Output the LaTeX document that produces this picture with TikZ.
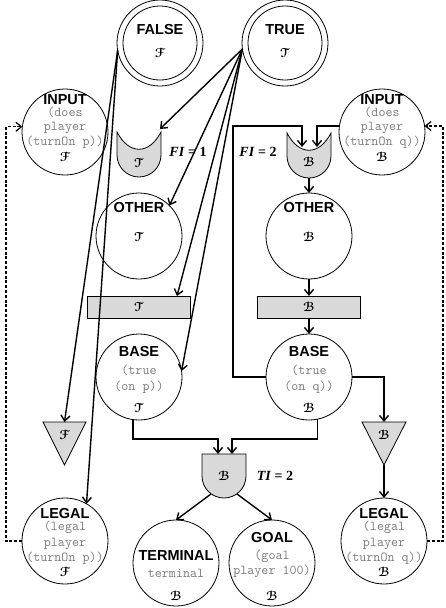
\documentclass[tikz,border=0pt]{standalone}
\usepackage{amsmath}
\usepackage{bm}
\usepackage[mathcal]{eucal}
\usepackage{fontspec}
\setmainfont{Liberation Serif}
\newfontfamily\ttlfont{Liberation Sans}
\usetikzlibrary{arrows.meta,calc}
\definecolor{gatefill}{HTML}{D9D9D9}
\definecolor{codegray}{HTML}{7A7A7A}
\newcommand{\symF}{$\bm{\mathcal{F}}$}
\newcommand{\symT}{$\bm{\mathcal{T}}$}
\newcommand{\symB}{$\bm{\mathcal{B}}$}
\begin{document}
\begin{tikzpicture}[x=1pt,y=-1pt,
  every node/.style={inner sep=0pt, outer sep=0pt},
  st/.style={circle, draw, line width=0.8pt, minimum size=86pt},
  ttl/.style={anchor=base, font=\ttlfont\bfseries\fontsize{14.5}{14.5}\selectfont},
  code/.style={anchor=base, font=\ttfamily\fontsize{13.6}{13.6}\selectfont, text=codegray},
  sym/.style={anchor=base, font=\fontsize{13}{13}\selectfont},
  gatedraw/.style={draw, line width=0.8pt, fill=gatefill},
  rectbox/.style={draw, line width=0.8pt, fill=gatefill, minimum width=103pt, minimum height=22pt},
  arr/.style={line width=1.4pt, -{Straight Barb[length=5.5pt,width=9pt]}},
  dsh/.style={line width=1.2pt, dash pattern=on 3pt off 1.8pt, -{Straight Barb[length=5.5pt,width=9pt]}},
  lblf/.style={font=\fontsize{14}{14}\selectfont\bfseries},
  orshape/.pic={\path[gatedraw] (-22,-23) -- (-22,0) arc[start angle=180,end angle=360,radius=22pt] -- (22,-23) .. controls (10,0) and (-10,0) .. cycle;},
  andshape/.pic={\path[gatedraw] (-22,-22) -- (-22,0) arc[start angle=180,end angle=360,radius=22pt] -- (22,-22) -- cycle;}
]
\useasboundingbox (0,0) rectangle (445,608);

% gate shapes
\pic at (139,155) {orshape};
\pic at (309,156) {orshape};
\pic at (224,476) {andshape};
\path[gatedraw] (43,422) -- (86,422) -- (64.5,465) -- cycle;
\path[gatedraw] (362,422) -- (406,422) -- (384,465) -- cycle;

% gate labels
\node[sym] (or1) at (139,167) {\symT};
\node[sym] (or2) at (309,166) {\symB};
\node[sym] (and) at (224,480.5) {\symB};
\node[sym] (tri1) at (64.5,439.5) {\symF};
\node[sym] (tri2) at (384,439.5) {\symB};
\node[lblf] (fi1) at (188,152) {\textit{FI} = 1};
\node[lblf] (fi2) at (258,152) {\textit{FI} = 2};
\node[lblf] (ti) at (275,476) {\textit{TI} = 2};

% coordinates on gates
\coordinate (or1-in) at (160,129);
\coordinate (or2-in1) at (302,147);
\coordinate (or2-in2) at (317,147);
\coordinate (or2-out) at (309,178);
\coordinate (and-in1) at (218,454);
\coordinate (and-in2) at (232,454);
\coordinate (and-o1) at (211,494);
\coordinate (and-o2) at (237,494);
\coordinate (t1-top) at (64.5,422);
\coordinate (t2-top) at (384,422);
\coordinate (t2-bot) at (384,465);
\coordinate (lp) at (233,126);
\coordinate (jl) at (218,439);
\coordinate (jr) at (232,439);
\coordinate (dl) at (6,0);
\coordinate (dr) at (443,0);
\coordinate (r1-in) at (177,296);

% rectangles
\node[rectbox, font=\fontsize{13}{13}\selectfont] (r1) at (139,307) {\symT};
\node[rectbox, font=\fontsize{13}{13}\selectfont] (r2) at (309,307) {\symB};

% FALSE / TRUE
\node[st] (fa) at (160,43) {};
\draw[line width=0.8pt] (fa.center) circle[radius=37pt];
\node[ttl] (fa-t) at ($(fa)+(0,-9)$) {FALSE};
\node[sym] (fa-s) at ($(fa)+(0,14)$) {\symF};
\node[st] (tr) at (285,43) {};
\draw[line width=0.8pt] (tr.center) circle[radius=37pt];
\node[ttl] (tr-t) at ($(tr)+(0,-9)$) {TRUE};
\node[sym] (tr-s) at ($(tr)+(0,14)$) {\symT};

% INPUT
\node[st] (in1) at (65,132) {};
\node[ttl] (in1-t) at ($(in1)+(0,-28)$) {INPUT};
\node[code] (in1-c1) at ($(in1)+(0,-15.5)$) {(does};
\node[code] (in1-c2) at ($(in1)+(0,-1.5)$) {player};
\node[code] (in1-c3) at ($(in1)+(0,13.5)$) {(turnOn p))};
\node[sym] (in1-s) at ($(in1)+(0,29)$) {\symF};
\node[st] (in2) at (382,132) {};
\node[ttl] (in2-t) at ($(in2)+(0,-28)$) {INPUT};
\node[code] (in2-c1) at ($(in2)+(0,-15.5)$) {(does};
\node[code] (in2-c2) at ($(in2)+(0,-1.5)$) {player};
\node[code] (in2-c3) at ($(in2)+(0,13.5)$) {(turnOn q))};
\node[sym] (in2-s) at ($(in2)+(0,29)$) {\symB};

% OTHER
\node[st] (ot1) at (139,236) {};
\node[ttl] (ot1-t) at ($(ot1)+(0,-24)$) {OTHER};
\node[sym] (ot1-s) at ($(ot1)+(0,5)$) {\symT};
\node[st] (ot2) at (309,236) {};
\node[ttl] (ot2-t) at ($(ot2)+(0,-24)$) {OTHER};
\node[sym] (ot2-s) at ($(ot2)+(0,5)$) {\symB};

% BASE
\node[st] (b1) at (139,377) {};
\node[ttl] (b1-t) at ($(b1)+(0,-21)$) {BASE};
\node[code] (b1-c1) at ($(b1)+(0,-2.5)$) {(true};
\node[code] (b1-c2) at ($(b1)+(0,13.5)$) {(on p))};
\node[sym] (b1-s) at ($(b1)+(0,35.7)$) {\symT};
\node[st] (b2) at (309,377) {};
\node[ttl] (b2-t) at ($(b2)+(0,-21)$) {BASE};
\node[code] (b2-c1) at ($(b2)+(0,-2.5)$) {(true};
\node[code] (b2-c2) at ($(b2)+(0,13.5)$) {(on q))};
\node[sym] (b2-s) at ($(b2)+(0,35.7)$) {\symB};

% LEGAL
\node[st] (lg1) at (65,541) {};
\node[ttl] (lg1-t) at ($(lg1)+(0,-23)$) {LEGAL};
\node[code] (lg1-c1) at ($(lg1)+(0,-10.5)$) {(legal};
\node[code] (lg1-c2) at ($(lg1)+(0,5.5)$) {player};
\node[code] (lg1-c3) at ($(lg1)+(0,20.5)$) {(turnOn p))};
\node[sym] (lg1-s) at ($(lg1)+(0,35.7)$) {\symF};
\node[st] (lg2) at (384,541) {};
\node[ttl] (lg2-t) at ($(lg2)+(0,-23)$) {LEGAL};
\node[code] (lg2-c1) at ($(lg2)+(0,-10.5)$) {(legal};
\node[code] (lg2-c2) at ($(lg2)+(0,5.5)$) {player};
\node[code] (lg2-c3) at ($(lg2)+(0,20.5)$) {(turnOn q))};
\node[sym] (lg2-s) at ($(lg2)+(0,35.7)$) {\symB};

% TERMINAL / GOAL
\node[st] (term) at (176,563) {};
\node[ttl] (term-t) at ($(term)+(0,-3)$) {TERMINAL};
\node[code] (term-c) at ($(term)+(0,14.5)$) {terminal};
\node[sym] (term-s) at ($(term)+(0,37.7)$) {\symB};
\node[st] (goal) at (272,563) {};
\node[ttl] (goal-t) at ($(goal)+(0,-21)$) {GOAL};
\node[code] (goal-c1) at ($(goal)+(0,-3.5)$) {(goal};
\node[code] (goal-c2) at ($(goal)+(0,11.5)$) {player 100)};
\node[sym] (goal-s) at ($(goal)+(0,37.7)$) {\symB};

% connectors
\draw[arr] (fa.190) -- (t1-top);
\draw[arr] (fa.190) -- (lg1.60);
\draw[arr] (tr.188) -- (or1-in);
\draw[arr] (tr.188) -- (ot1.45);
\draw[arr] (tr.188) -- (r1-in);
\draw[arr] (tr.188) -- (b1.8);
\draw[arr] (in2.172) -| (or2-in2);
\draw[arr] (b2.west) -| (lp) -| (or2-in1);
\draw[arr] (or2-out) -- (ot2.north);
\draw[arr] (ot2.south) -- (r2.north);
\draw[arr] (r2.south) -- (b2.north);
\draw[arr] (b2.east) -| (t2-top);
\draw[arr] (t2-bot) -- (lg2.north);
\draw[arr] (b1.262) |- (jl) -- (and-in1);
\draw[arr] (b2.281) |- (jr) -- (and-in2);
\draw[arr] (and-o1) -- (term.north);
\draw[arr] (and-o2) -- (goal.north);
\draw[dsh] (lg1.west) -| (dl |- in1.173) -- (in1.173);
\draw[dsh] (lg2.east) -| (dr |- in2.8) -- (in2.8);
\end{tikzpicture}
\end{document}
